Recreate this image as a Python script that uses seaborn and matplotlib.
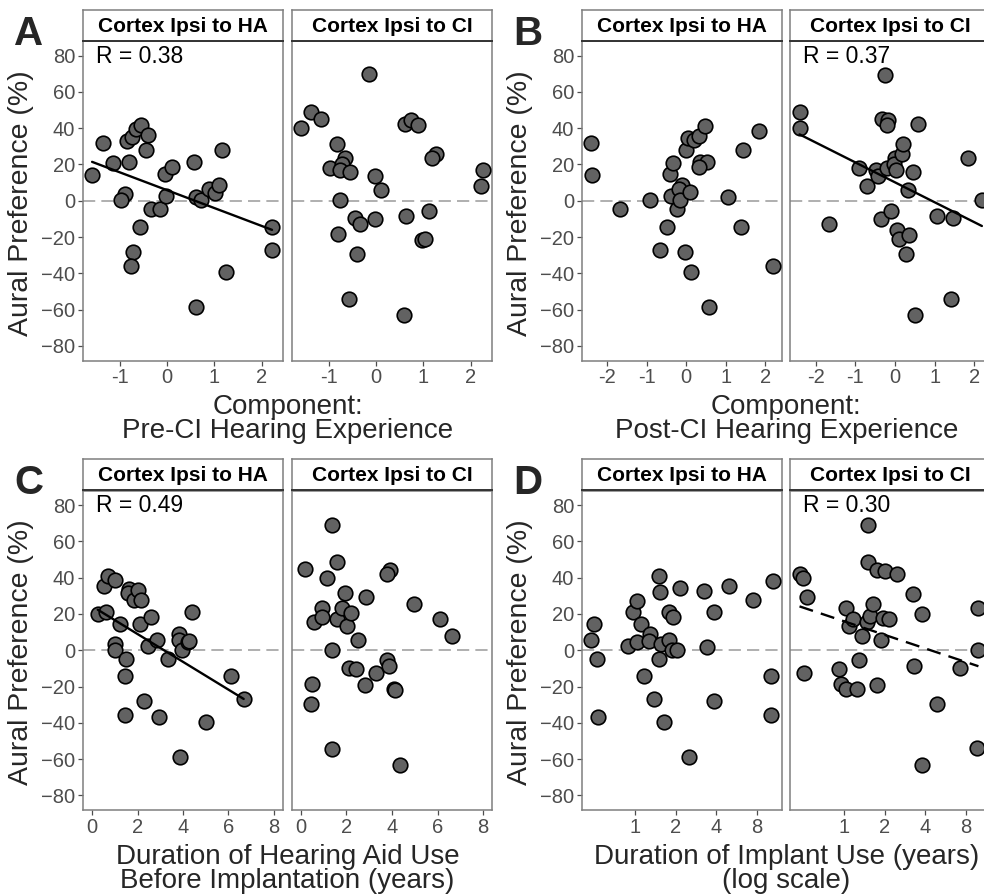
import numpy as np
import pandas as pd
import matplotlib
matplotlib.use("Agg")
import matplotlib.pyplot as plt
import seaborn as sns

# ---- data ----
# A: Pre-CI hearing experience component
a_ha_x = [-1.59, -1.35, -1.14, -0.90, -0.97, -0.86, -0.81, -0.74, -0.66, -0.56, -0.41, -0.45, -0.57, -0.73, -0.77,
          -0.35, -0.15, -0.03, -0.04, 0.10, 0.56, 0.61, 0.72, 0.875, 1.01, 1.10, 1.17, 1.24, 0.61, 2.22, 2.21]
a_ha_y = [14.4, 32.0, 20.6, 3.9, 0.2, 33.0, 21.3, 35.2, 39.4, 41.7, 36.1, 28.0, -14.3, -28.1, -35.9,
          -4.6, -4.6, 2.8, 14.8, 18.5, 21.3, 2.0, 0.2, 6.5, 4.3, 8.9, 28.0, -39.3, -58.7, -14.6, -26.9]
a_ci_x = [-1.59, -1.38, -1.16, -0.83, -0.97, -0.65, -0.72, -0.76, -0.56, -0.77, -0.81, -0.44, -0.34, -0.41, -0.58, -0.16,
          -0.02, 0.10, -0.02, 0.60, 0.74, 0.88, 0.63, 1.12, 1.26, 1.17, 0.96, 1.03, 0.58, 2.26, 2.22]
a_ci_y = [39.8, 48.7, 45.0, 31.5, 18.1, 23.3, 20.4, 17.2, 15.7, 0.6, -18.5, -9.6, -12.8, -29.4, -54.1, 69.6,
          13.5, 5.7, -10.2, 42.2, 44.6, 41.9, -8.3, -5.4, 25.6, 23.3, -21.7, -21.1, -63.0, 16.9, 8.0]

# B: Post-CI hearing experience component
b_ha_x = [-2.41, -2.39, -1.67, -0.90, -0.67, -0.48, -0.41, -0.33, -0.39, -0.24, -0.10, -0.18, -0.16, 0.11, -0.03,
          0.13, 0.00, 0.04, 0.19, 0.32, 0.47, 0.36, 0.53, 0.34, 0.57, 1.07, 1.45, 1.39, 1.84, 2.19]
b_ha_y = [32.0, 14.4, -4.6, 0.2, -26.9, -14.3, 14.8, 20.6, 2.4, -4.6, 8.9, 6.5, 0.6, 4.6, -28.1,
          -39.3, 28.0, 34.8, 33.3, 35.7, 41.3, 21.5, 21.3, 18.5, -58.7, 2.0, 28.0, -14.3, 38.5, -35.9]
b_ci_x = [-2.41, -2.41, -1.67, -0.91, -0.70, -0.49, -0.42, -0.36, -0.34, -0.18, -0.21, -0.25, -0.21, -0.11, -0.01, -0.03,
          0.02, 0.17, 0.19, 0.06, 0.10, 0.36, 0.27, 0.33, 0.46, 0.57, 0.51, 1.07, 1.45, 1.41, 1.83, 2.19]
b_ci_y = [48.7, 39.8, -12.8, 18.1, 8.0, 17.2, 13.5, -10.2, 45.0, 44.4, 41.9, 69.4, 18.1, -5.4, 23.3, 20.4,
          17.2, 25.6, 31.5, -16.1, -21.3, -18.9, -29.1, 5.7, 15.9, 42.2, -63.0, -8.3, -9.6, -54.1, 23.3, 0.6]

# C: Duration of hearing aid use before implantation (years)
c_ha_x = [0.25, 0.61, 0.51, 0.72, 1.01, 1.01, 1.01, 1.23, 1.48, 1.45, 1.45, 1.64, 1.57, 1.84, 2.03, 2.17, 2.10,
          2.46, 2.58, 2.29, 2.86, 2.96, 3.36, 3.81, 3.84, 3.96, 4.20, 4.28, 4.39, 3.88, 5.00, 6.09, 6.67]
c_ha_y = [19.9, 21.2, 35.6, 40.9, 38.7, 3.7, 0.4, 14.4, -4.6, -14.4, -35.9, 33.7, 31.3, 27.6, 33.2, 27.6, 14.4,
          2.2, 18.4, -28.2, 5.9, -36.9, -4.6, 8.7, 5.9, 0.4, 4.6, 5.0, 21.2, -58.6, -39.3, -14.4, -26.7]
c_ci_x = [0.19, 0.48, 0.44, 0.60, 0.92, 0.92, 1.14, 1.36, 1.58, 1.36, 1.36, 1.58, 1.80, 1.95, 2.02, 2.21,
          2.10, 2.43, 2.51, 2.80, 2.87, 3.31, 3.78, 3.88, 3.93, 3.78, 4.07, 4.12, 4.34, 4.95, 6.10, 6.64]
c_ci_y = [44.6, -18.8, -29.5, 15.7, 23.4, 18.1, 40.0, 69.1, 48.5, 0.4, -54.4, 17.0, 23.4, 31.3, 13.3, 20.3,
          -9.6, -10.1, 5.5, -19.0, 29.5, -12.4, -5.5, -8.7, 44.2, 41.8, -21.2, -21.8, -63.0, 25.3, 17.0, 7.7]

# D: Duration of implant use (years, log scale)
d_ha_x = [0.47, 0.50, 0.52, 0.53, 0.89, 0.97, 1.03, 1.03, 1.11, 1.17, 1.30, 1.27, 1.38, 1.50, 1.53, 1.55, 1.52,
          1.64, 1.78, 1.91, 1.78, 1.89, 2.05, 2.17, 2.53, 3.27, 3.42, 3.87, 3.87, 4.95, 7.57, 10.5, 10.2, 10.3]
d_ha_y = [5.9, 14.4, -4.6, -36.9, 2.4, 20.8, 27.3, 4.6, 14.4, -14.4, 8.8, 5.0, -26.7, 40.9, 31.9, 3.3, -4.6,
          -39.3, 20.8, 18.4, 5.9, 0.4, 0.4, 34.5, -58.6, 32.8, 1.8, 20.8, -28.2, 35.6, 27.6, 38.3, -14.4, -35.9]
d_ci_x = [0.47, 0.50, 0.53, 0.51, 0.92, 0.95, 1.03, 1.03, 1.09, 1.17, 1.25, 1.29, 1.36, 1.48, 1.55, 1.50, 1.50,
          1.64, 1.75, 1.75, 1.94, 1.89, 2.02, 2.16, 2.49, 3.25, 3.31, 3.81, 3.81, 4.91, 7.27, 9.9, 9.9, 9.7]
d_ci_y = [41.8, 40.0, 29.5, -12.5, -10.5, -18.4, -21.2, 23.4, 13.5, 17.0, -21.6, -5.5, 7.7, 15.7, 18.8, 69.1, 48.5,
          25.4, 44.2, -19.0, 17.9, 5.5, 43.7, 17.0, 41.8, 31.0, -8.7, 19.7, -63.0, -29.5, -9.8, 23.4, 0.0, -54.0]

facets = ["Cortex Ipsi to HA", "Cortex Ipsi to CI"]
r_labels = {"A": "R = 0.38", "B": "R = 0.37", "C": "R = 0.49", "D": "R = 0.30"}
xlabels = {"A": "Component:\nPre-CI Hearing Experience",
           "B": "Component:\nPost-CI Hearing Experience",
           "C": "Duration of Hearing Aid Use\nBefore Implantation (years)",
           "D": "Duration of Implant Use (years)\n(log scale)"}

sns.set_style("white")
plt.rcParams["font.family"] = ["Liberation Sans", "DejaVu Sans"]

W, H = 984, 894
fig = plt.figure(figsize=(W / 100, H / 100), dpi=100)

TICK_COL = "#4D4D4D"
FRAME_COL = "#7F7F7F"


def add_px_axes(x0, y0, x1, y1):
    return fig.add_axes([x0 / W, 1 - y1 / H, (x1 - x0) / W, (y1 - y0) / H])


def draw_pair(letter, xs, ys, fit_side, dashed, left, top, xlim, xticks, logx=False):
    cols = [(left, left + 200), (left + 208.7, left + 409.3)]
    for i, (x0, x1) in enumerate(cols):
        ax = add_px_axes(x0, top, x1, top + 319.5)
        strip = add_px_axes(x0, top - 31, x1, top)
        df = pd.DataFrame({"x": xs[i], "y": ys[i]})
        if logx:
            ax.set_xscale("log")
        ax.axhline(0, color="#9A9A9A", lw=1.1, ls=(0, (8, 4)), zorder=1)
        sns.scatterplot(data=df, x="x", y="y", ax=ax, s=110, color="#626262",
                        edgecolor="black", linewidth=1.2, zorder=3, legend=False)
        if i == fit_side:
            sns.regplot(data=df, x="x", y="y", ax=ax, scatter=False, ci=None, logx=logx,
                        color="black", truncate=True,
                        line_kws={"lw": 1.7, "zorder": 4,
                                  "ls": (0, (6, 3.5)) if dashed else "-"})
            ax.text(0.065, 0.952, r_labels[letter], transform=ax.transAxes,
                    fontsize=16.5, ha="left", va="center", color="black")
        ax.set_ylim(-88, 88)
        ax.set_xlim(*xlim)
        ax.set_xticks(xticks)
        ax.set_xticklabels([f"{t:g}" for t in xticks])
        ax.minorticks_off()
        ax.set_xlabel("")
        ax.set_ylabel("")
        if i == 0:
            ax.set_yticks(np.arange(-80, 81, 20))
            ax.tick_params(axis="y", left=True, length=3.5, width=0.9, color=TICK_COL,
                           labelsize=14.5, labelcolor=TICK_COL, pad=2)
        else:
            ax.set_yticks([])
        ax.tick_params(axis="x", bottom=True, length=3.5, width=0.9, color=TICK_COL,
                       labelsize=14.5, labelcolor=TICK_COL, pad=2)
        for s in ax.spines.values():
            s.set_color(FRAME_COL)
            s.set_linewidth(1.1)
        strip.set_xticks([])
        strip.set_yticks([])
        strip.set_facecolor("white")
        for s in strip.spines.values():
            s.set_color(FRAME_COL)
            s.set_linewidth(1.1)
        strip.spines["bottom"].set_color("#333333")
        strip.spines["bottom"].set_linewidth(1.4)
        strip.text(0.5, 0.48, facets[i], transform=strip.transAxes, ha="center", va="center",
                   fontsize=15, fontweight="bold", color="black")
    # panel letter, y title, x title
    fig.text((left - 54) / W, 1 - (top - 7) / H, letter, fontsize=29, fontweight="bold",
             ha="center", va="center")
    fig.text((left - 62) / W, 1 - (top + 162) / H, "Aural Preference (%)", rotation=90,
             fontsize=20.5, ha="center", va="center")
    fig.text((left + 204.6) / W, 1 - (top + 353) / H, xlabels[letter], fontsize=20,
             ha="center", va="top", linespacing=0.92)


def pad_range(vals, frac=0.05):
    lo, hi = min(vals), max(vals)
    span = hi - lo
    return lo - frac * span, hi + frac * span


xa = pad_range(a_ha_x + a_ci_x)
xb = pad_range(b_ha_x + b_ci_x)
xd = tuple(np.exp(pad_range(list(np.log(d_ha_x + d_ci_x)))))

draw_pair("A", [a_ha_x, a_ci_x], [a_ha_y, a_ci_y], 0, False, 83, 41, xa, [-1, 0, 1, 2])
draw_pair("B", [b_ha_x, b_ci_x], [b_ha_y, b_ci_y], 1, False, 581.7, 41, xb, [-2, -1, 0, 1, 2])
draw_pair("C", [c_ha_x, c_ci_x], [c_ha_y, c_ci_y], 0, False, 83, 490.5, (-0.4, 8.4), [0, 2, 4, 6, 8])
draw_pair("D", [d_ha_x, d_ci_x], [d_ha_y, d_ci_y], 1, True, 581.7, 490.5, xd, [1, 2, 4, 8], logx=True)

fig.savefig("out.png", dpi=100)
